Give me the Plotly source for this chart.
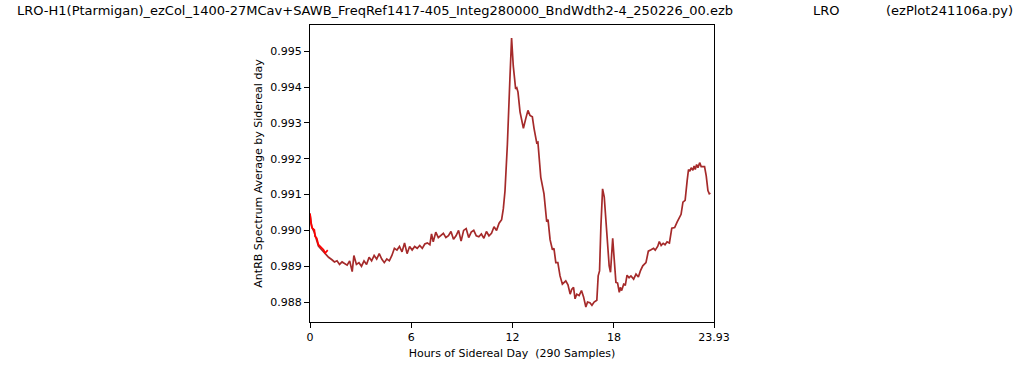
import plotly.graph_objects as go

hours = [0.00, 0.10, 0.25, 0.40, 0.50, 0.65, 0.80, 0.95, 1.10, 1.30, 1.45, 1.60, 1.75, 1.90,
         2.05, 2.20, 2.35, 2.50, 2.60, 2.75, 2.90, 3.05, 3.20, 3.35, 3.50, 3.65, 3.80, 3.95,
         4.10, 4.25, 4.40, 4.55, 4.70, 4.85, 5.00, 5.15, 5.30, 5.45, 5.60, 5.75, 5.90, 6.05,
         6.20, 6.35, 6.50, 6.65, 6.80, 6.95, 7.10, 7.20, 7.30, 7.45, 7.60, 7.75, 7.90, 8.05,
         8.20, 8.35, 8.50, 8.65, 8.80, 8.95, 9.10, 9.25, 9.40, 9.55, 9.70, 9.85, 10.00, 10.15,
         10.30, 10.45, 10.60, 10.75, 10.90, 11.05, 11.20, 11.35, 11.45, 11.55, 11.69, 11.84,
         11.94, 12.04, 12.18, 12.25, 12.32, 12.44, 12.58, 12.64, 12.78, 12.91, 13.03, 13.17,
         13.27, 13.43, 13.50, 13.67, 13.86, 14.02, 14.10, 14.22, 14.36, 14.45, 14.56, 14.68,
         14.81, 14.95, 15.15, 15.28, 15.41, 15.50, 15.61, 15.70, 15.80, 15.94, 16.08, 16.20,
         16.34, 16.44, 16.58, 16.70, 16.83, 16.99, 17.07, 17.15, 17.23, 17.33, 17.43, 17.57,
         17.65, 17.72, 17.80, 17.93, 18.02, 18.12, 18.22, 18.32, 18.38, 18.46, 18.58, 18.68,
         18.78, 18.90, 19.01, 19.17, 19.31, 19.45, 19.57, 19.71, 19.90, 20.04, 20.20, 20.35,
         20.45, 20.60, 20.69, 20.80, 20.92, 21.03, 21.15, 21.29, 21.43, 21.60, 21.75, 21.88,
         21.98, 22.09, 22.22, 22.34, 22.42, 22.50, 22.58, 22.68, 22.75, 22.82, 22.90, 22.98,
         23.08, 23.17, 23.27, 23.37, 23.47, 23.57, 23.65, 23.72]
antrb = [0.99047, 0.99010, 0.98995, 0.98970, 0.98956, 0.98948, 0.98940, 0.98935, 0.98925,
         0.98918, 0.98912, 0.98915, 0.98905, 0.98912, 0.98908, 0.98903, 0.98915, 0.98885,
         0.98930, 0.98905, 0.98910, 0.98900, 0.98915, 0.98905, 0.98925, 0.98915, 0.98930,
         0.98920, 0.98935, 0.98920, 0.98910, 0.98920, 0.98915, 0.98930, 0.98950, 0.98945,
         0.98955, 0.98940, 0.98965, 0.98935, 0.98955, 0.98945, 0.98955, 0.98950, 0.98958,
         0.98950, 0.98962, 0.98965, 0.98960, 0.98990, 0.98968, 0.98995, 0.98980, 0.98985,
         0.98992, 0.98980, 0.98985, 0.98997, 0.98975, 0.98985, 0.99000, 0.98970, 0.99000,
         0.99005, 0.98980, 0.98995, 0.99000, 0.98985, 0.98982, 0.98990, 0.98978, 0.98997,
         0.98985, 0.98992, 0.99010, 0.99000, 0.99020, 0.99030, 0.99060, 0.99110, 0.99239,
         0.99422, 0.99537, 0.99459, 0.99395, 0.99398, 0.99386, 0.99331, 0.99294, 0.99285,
         0.99312, 0.99335, 0.99321, 0.99317, 0.99285, 0.99244, 0.99246, 0.99148, 0.99102,
         0.99024, 0.99030, 0.98974, 0.98946, 0.98950, 0.98910, 0.98910, 0.98873, 0.98850,
         0.98859, 0.98848, 0.98822, 0.98835, 0.98841, 0.98809, 0.98822, 0.98818, 0.98832,
         0.98815, 0.98786, 0.98800, 0.98798, 0.98791, 0.98800, 0.98805, 0.98873, 0.98887,
         0.99010, 0.99116, 0.99093, 0.98992, 0.98930, 0.98901, 0.98883, 0.98978, 0.98919,
         0.98855, 0.98853, 0.98827, 0.98841, 0.98832, 0.98850, 0.98848, 0.98875, 0.98868,
         0.98873, 0.98864, 0.98878, 0.98870, 0.98887, 0.98901, 0.98910, 0.98942, 0.98946,
         0.98950, 0.98945, 0.98956, 0.98969, 0.98958, 0.98964, 0.98960, 0.98968, 0.98965,
         0.99006, 0.99008, 0.99024, 0.99038, 0.99045, 0.99079, 0.99084, 0.99139, 0.99170,
         0.99165, 0.99175, 0.99168, 0.99180, 0.99170, 0.99184, 0.99175, 0.99189, 0.99178,
         0.99177, 0.99178, 0.99152, 0.99111, 0.99102, 0.99104, 0.99091]

red_hours = [0.00, 0.06, 0.14, 0.26, 0.30, 0.40, 0.50, 0.60, 0.70, 0.80, 0.90, 1.05]
red_antrb = [0.99047, 0.99020, 0.99006, 0.99001, 0.98983, 0.98978, 0.98960, 0.98955,
             0.98948, 0.98946, 0.98937, 0.98945]

x_tickvals = [0, 6, 12, 18, 23.93]
x_ticktext = ["0", "6", "12", "18", "23.93"]
y_tickvals = [0.988, 0.989, 0.990, 0.991, 0.992, 0.993, 0.994, 0.995]
y_ticktext = ["0.988", "0.989", "0.990", "0.991", "0.992", "0.993", "0.994", "0.995"]

fig = go.Figure()
fig.add_trace(go.Scatter(x=hours, y=antrb, mode="lines",
                         line=dict(color="#a52a2a", width=1.7), showlegend=False))
fig.add_trace(go.Scatter(x=red_hours, y=red_antrb, mode="lines",
                         line=dict(color="#ff0000", width=1.7), showlegend=False))

axis_common = dict(showline=True, linecolor="black", linewidth=1, mirror=True,
                   ticks="outside", ticklen=5, tickcolor="black", showgrid=False,
                   zeroline=False, tickfont=dict(family="DejaVu Sans", size=11, color="black"))

fig.update_xaxes(range=[0, 23.93], tickvals=x_tickvals, ticktext=x_ticktext,
                 title=dict(text="Hours of Sidereal Day  (290 Samples)",
                            font=dict(family="DejaVu Sans", size=11, color="black"),
                            standoff=6),
                 **axis_common)
fig.update_yaxes(range=[0.987443, 0.995733], tickvals=y_tickvals, ticktext=y_ticktext,
                 title=dict(text="AntRB Spectrum Average by Sidereal day",
                            font=dict(family="DejaVu Sans", size=11, color="black"),
                            standoff=5),
                 **axis_common)

title_font = dict(family="DejaVu Sans", size=13, color="black")
fig.add_annotation(text="LRO-H1(Ptarmigan)_ezCol_1400-27MCav+SAWB_FreqRef1417-405_Integ280000_BndWdth2-4_250226_00.ezb",
                   xref="paper", yref="paper", x=-0.731, y=1.0, xanchor="left", yanchor="bottom",
                   yshift=5, showarrow=False, font=title_font)
fig.add_annotation(text="LRO", xref="paper", yref="paper", x=1.2797, y=1.0,
                   xanchor="center", yanchor="bottom", yshift=5, showarrow=False, font=title_font)
fig.add_annotation(text="(ezPlot241106a.py)", xref="paper", yref="paper", x=1.745, y=1.0,
                   xanchor="right", yanchor="bottom", yshift=5, showarrow=False, font=title_font)

fig.update_layout(width=1024, height=370, paper_bgcolor="white", plot_bgcolor="white",
                  margin=dict(l=310, r=310, t=25, b=43),
                  font=dict(family="DejaVu Sans", size=11, color="black"))

fig.write_html("out.html", config={"displayModeBar": False},
               post_script="document.body.style.margin='0';document.body.style.overflow='hidden';")
